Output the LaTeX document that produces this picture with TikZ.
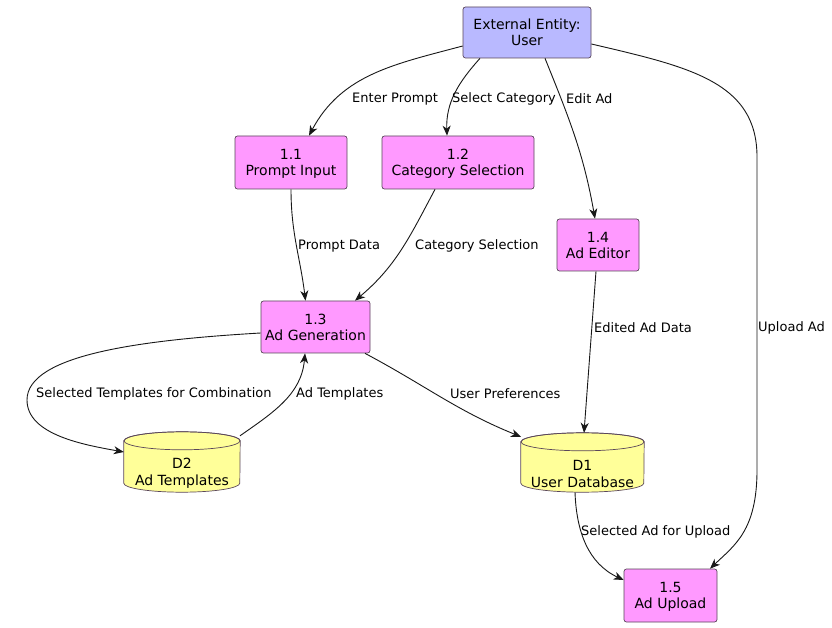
\documentclass[tikz,border=0pt]{standalone}
\usepackage{fontspec}
\setmainfont{DejaVu Sans}
\usetikzlibrary{arrows.meta,backgrounds,calc}
\definecolor{entityfill}{RGB}{185,185,255}
\definecolor{procfill}{RGB}{255,153,255}
\definecolor{storefill}{RGB}{255,255,153}
\definecolor{boxline}{RGB}{90,70,90}
\definecolor{flowline}{RGB}{24,24,24}
\tikzset{
  base/.style={draw=boxline, line width=0.7pt, rounded corners=2.5pt, align=center,
    inner sep=0pt, text depth=0pt, font=\fontsize{14}{16}\selectfont, text=black},
  entity/.style={base, fill=entityfill},
  proc/.style={base, fill=procfill},
  store/.style={inner sep=0pt},
  storetext/.style={align=center, inner sep=0pt, font=\fontsize{14}{17}\selectfont},
  storeshape/.style={draw=boxline, line width=0.7pt, fill=storefill},
  flow/.style={draw=flowline, line width=0.9pt,
    -{Stealth[length=10pt,width=8pt,inset=3pt]}},
  flowlabel/.style={anchor=west, inner sep=0pt, font=\fontsize{13}{15}\selectfont}
}
\begin{document}
\begin{tikzpicture}[x=1pt,y=1pt]
\useasboundingbox (0,0) rectangle (832,627);

% entity and processes
\node[entity, minimum width=128, minimum height=51] (user) at (527,594.5) {External Entity:\\User};
\node[proc, minimum width=112, minimum height=53] (p11) at (291,464.5) {1.1\\Prompt Input};
\node[proc, minimum width=152, minimum height=53] (p12) at (458,464.5) {1.2\\Category Selection};
\node[proc, minimum width=82, minimum height=52] (p14) at (598,382) {1.4\\Ad Editor};
\node[proc, minimum width=109, minimum height=52] (p13) at (315.5,300) {1.3\\Ad Generation};
\node[proc, minimum width=93, minimum height=53] (p15) at (670.5,31.5) {1.5\\Ad Upload};

% data stores
\node[store, minimum width=116, minimum height=60] (d2) at (182,165) {};
\node[store, minimum width=123, minimum height=59] (d1) at (582.5,164.5) {};
\node[storetext] (d2t) at (182,153.5) {D2\\Ad Templates};
\node[storetext] (d1t) at (582.5,153.5) {D1\\User Database};
\begin{scope}[on background layer]
  \fill[white] (0,0) rectangle (832,627);
  \foreach \s/\rx in {d2/58, d1/61.5} {
    \path[storeshape] ([yshift=-9]\s.north west) -- ([yshift=9]\s.south west)
      arc[start angle=180, end angle=360, x radius=\rx, y radius=9]
      -- ([yshift=-9]\s.north east)
      arc[start angle=0, end angle=180, x radius=\rx, y radius=9] -- cycle;
    \draw[boxline, line width=0.7pt] ($(\s.north)+(0,-9)$) ellipse [x radius=\rx, y radius=9];
  }
\end{scope}

% flows
\draw[flow] ([yshift=-13.5]user.west) to[out=195, in=62] ([xshift=18]p11.north);
\draw[flow] ([xshift=-47]user.south) to[out=228, in=92] ([xshift=-11]p12.north);
\draw[flow] ([xshift=18]user.south) to[out=-68, in=100] ([xshift=-3]p14.north);
\coordinate (ua) at (757,470);
\coordinate (ub) at (757,157);
\draw[flow] ([yshift=-11.5]user.east) .. controls (690,560) and (757,545) .. (ua)
  -- (ub) .. controls (757,97) and (735,82) .. ([xshift=39.5]p15.north);
\draw[flow] (p11.south) to[out=-90, in=97] ([xshift=-10]p13.north);
\draw[flow] ([xshift=-23]p12.south) to[out=-118, in=40] ([xshift=39.5]p13.north);
\draw[flow] ([xshift=-2]p14.south) -- ([xshift=1.5]d1.north);
\coordinate (lw) at (27,227);
\draw[flow] ([yshift=-6]p13.west) .. controls (140,287) and (27,272) .. (lw)
  .. controls (27,192) and (85,182) .. ([yshift=10]d2.west);
\draw[flow] ([xshift=58,yshift=-4]d2.north) to[out=35, in=-95] ([xshift=-10.5]p13.south);
\draw[flow] ([xshift=49.5]p13.south) to[out=-28, in=158] ([xshift=-61.5,yshift=-4]d1.north);
\draw[flow] ([xshift=-7.5]d1.south) to[out=-88, in=155] ([yshift=15.5]p15.west);

% flow labels
\node[flowlabel] (l1) at (352,528) {Enter Prompt};
\node[flowlabel] (l2) at (452,528) {Select Category};
\node[flowlabel] (l3) at (566,528) {Edit Ad};
\node[flowlabel] (l4) at (298,381) {Prompt Data};
\node[flowlabel] (l5) at (415,381) {Category Selection};
\node[flowlabel] (l6) at (594,299) {Edited Ad Data};
\node[flowlabel] (l7) at (758,299) {Upload Ad};
\node[flowlabel] (l8) at (36,233.5) {Selected Templates for Combination};
\node[flowlabel] (l9) at (296,233.5) {Ad Templates};
\node[flowlabel] (l10) at (450,233.5) {User Preferences};
\node[flowlabel] (l11) at (581,95) {Selected Ad for Upload};
\end{tikzpicture}
\end{document}
